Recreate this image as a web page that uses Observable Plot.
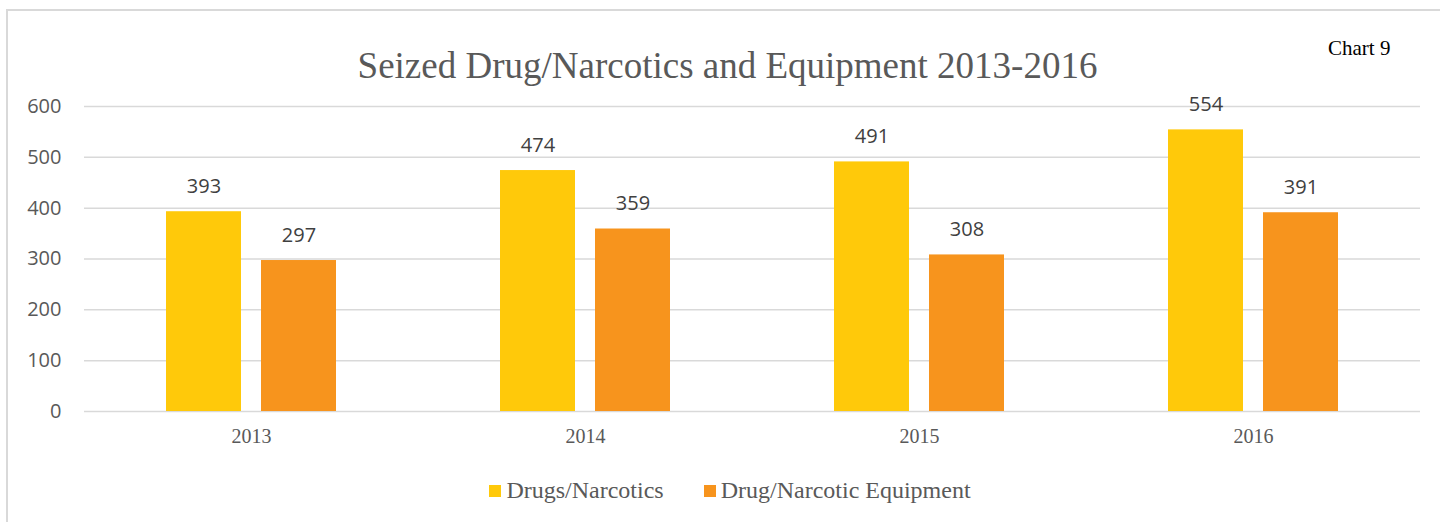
<!DOCTYPE html>
<html>
<head>
<meta charset="utf-8">
<script src="https://cdn.jsdelivr.net/npm/d3@7"></script>
<script src="https://cdn.jsdelivr.net/npm/@observablehq/plot@0.6"></script>
<style>
  html, body { margin: 0; padding: 0; background: #fff; }
  body { width: 1440px; height: 522px; position: relative; overflow: hidden; }
  #frame { position: absolute; left: 6px; top: 9px; width: 1450px; height: 530px; border: 2px solid #d9d9d9; box-sizing: border-box; }
  #title { position: absolute; left: 0; width: 1455px; top: 47px; text-align: center; font-family: "Liberation Serif", serif; font-size: 37px; color: #595959; line-height: 1; }
  #tag { position: absolute; left: 1328px; top: 38px; font-family: "Liberation Serif", serif; font-size: 21px; color: #000; line-height: 1; }
  #chart { position: absolute; left: 0; top: 90px; }
  #legend { position: absolute; top: 477px; left: 0; width: 1460px; display: flex; justify-content: center; gap: 40px; font-family: "Liberation Serif", serif; font-size: 24px; color: #595959; }
  #legend span.item { display: flex; align-items: center; }
  #legend span.sw { display: inline-block; width: 12px; height: 12px; margin-right: 5px; }
</style>
</head>
<body>
<div id="frame"></div>
<div id="title">Seized Drug/Narcotics and Equipment 2013-2016</div>
<div id="tag">Chart 9</div>
<div id="chart"></div>
<div id="legend"></div>
<script>
const years = ["2013", "2014", "2015", "2016"];
const seriesNames = ["Drugs/Narcotics", "Drug/Narcotic Equipment"];
const drugs = [393, 474, 491, 554];
const equipment = [297, 359, 308, 391];
const colors = ["#FFC90A", "#F7941D"];
const yTicks = [0, 100, 200, 300, 400, 500, 600];

const data = [];
years.forEach((yr, i) => {
  data.push({year: yr, series: seriesNames[0], value: drugs[i]});
  data.push({year: yr, series: seriesNames[1], value: equipment[i]});
});

const chart = Plot.plot({
  width: 1440,
  height: 370,
  marginTop: 16,
  marginBottom: 49,
  marginLeft: 83,
  marginRight: 20,
  style: {background: "transparent", overflow: "visible"},
  fx: {domain: years, padding: 0, label: null, axis: null},
  x: {domain: seriesNames, paddingInner: 0.2105, paddingOuter: 0.863, axis: null},
  y: {domain: [0, 600], ticks: yTicks, label: null, axis: null},
  color: {domain: seriesNames, range: colors},
  marks: [
    Plot.ruleY(yTicks, {stroke: "#d9d9d9", strokeWidth: 1.5}),
    Plot.barY(data, {fx: "year", x: "series", y: "value", fill: "series"}),
    Plot.text(data, {fx: "year", x: "series", y: "value", text: d => String(d.value), dy: -25, fill: "#404040", fontSize: 20, fontFamily: "Open Sans, sans-serif"}),
    Plot.axisY({ticks: yTicks, tickSize: 0, tickPadding: 23, fontSize: 20, fontFamily: "Open Sans, sans-serif", fill: "#595959", label: null}),
    Plot.axisFx({anchor: "bottom", tickSize: 0, tickPadding: 17, fontSize: 20, fontFamily: "Liberation Serif, serif", fill: "#595959", label: null})
  ]
});
document.getElementById("chart").appendChild(chart);

const legend = document.getElementById("legend");
seriesNames.forEach((name, i) => {
  const item = document.createElement("span");
  item.className = "item";
  const sw = document.createElement("span");
  sw.className = "sw";
  sw.style.background = colors[i];
  item.appendChild(sw);
  item.appendChild(document.createTextNode(name));
  legend.appendChild(item);
});
</script>
</body>
</html>
